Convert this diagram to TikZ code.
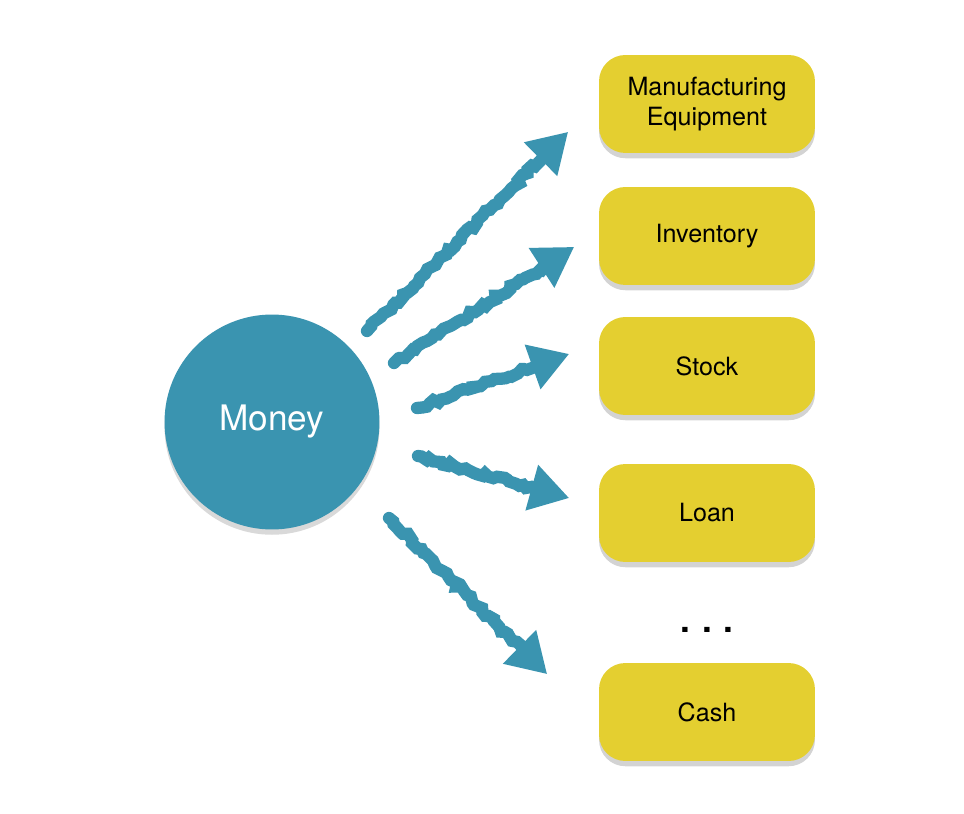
\documentclass[tikz,border=0pt]{standalone}
\usepackage{fontspec}
\setmainfont{TeX Gyre Heros}
\usetikzlibrary{arrows.meta,shadows,calc,decorations.pathmorphing}
\definecolor{moneyblue}{HTML}{3A94B0}
\definecolor{boxyellow}{HTML}{E4CF30}
\begin{document}
\begin{tikzpicture}[
x=0.02cm,y=-0.02cm,
money/.style={
	circle,minimum size=4.3cm,inner sep=0pt,
	fill=moneyblue,
	drop shadow={shadow xshift=0pt,shadow yshift=-3pt,opacity=0.3},
	text=white,font=\fontsize{20}{22}\selectfont},
use/.style={
	rectangle,minimum width=4.32cm,minimum height=1.96cm,rounded corners=15pt,
	fill=boxyellow,align=center,
	drop shadow={shadow xshift=0pt,shadow yshift=-3pt,opacity=0.35},
	font=\fontsize{14.3}{17.3}\selectfont},
shaft/.style={
	draw=moneyblue,line width=7pt,line cap=round,
	decorate,decoration={random steps,segment length=2.5pt,amplitude=1.3pt}},
head/.style={
	draw=moneyblue,line width=4pt,
	-{Triangle[length=22pt,width=26pt,fill=moneyblue]}}
]
\useasboundingbox (0,0) rectangle (964,814);
\node[money] (money) at (272,422) {Money};

\node[use] (equipment) at (707,104) {Manufacturing\\Equipment};
\node[use] (inventory) at (707,236) {Inventory};
\node[use] (stock) at (707,366) {Stock};
\node[use] (loan) at (707,513) {Loan};
\node (dots) at (707,630) {\fontsize{20}{20}\selectfont\bfseries .\,\,.\,\,.};
\node[use] (cash) at (707,712) {Cash};

\coordinate (s1) at (367,331);
\coordinate (t1) at (568,132);
\coordinate (s2) at (394,363);
\coordinate (t2) at (574,247);
\coordinate (s3) at (417,408);
\coordinate (t3) at (569,354);
\coordinate (s4) at (418,456);
\coordinate (t4) at (569,498);
\coordinate (s5) at (389,518);
\coordinate (t5) at (547,674);

\foreach \i in {1,...,5}{
	\draw[shaft] (s\i) -- ($(t\i)!18pt!(s\i)$);
	\draw[head] ($(t\i)!26pt!(s\i)$) -- (t\i);
}
\end{tikzpicture}
\end{document}
